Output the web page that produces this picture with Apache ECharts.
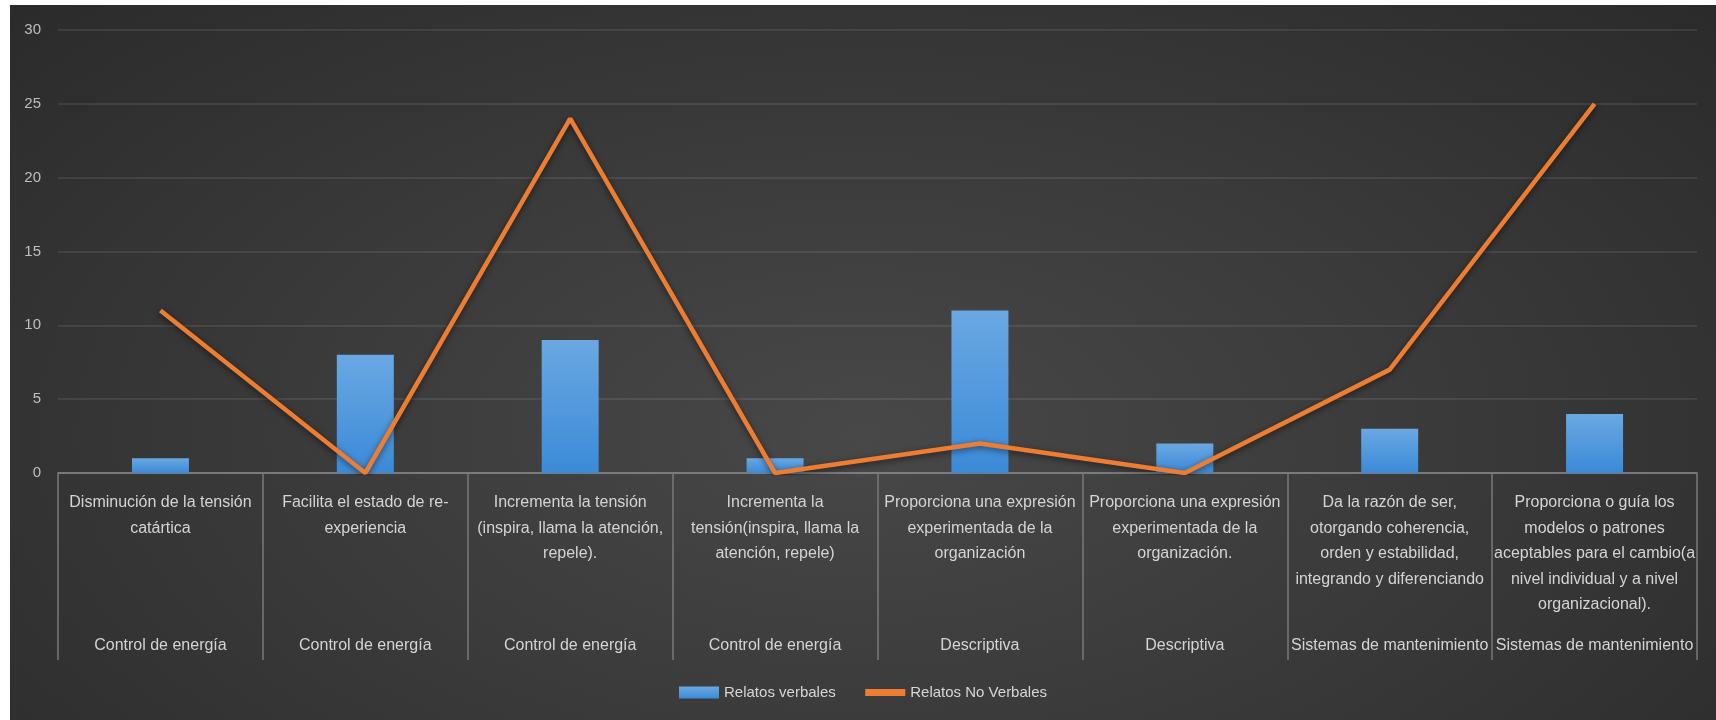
<!DOCTYPE html>
<html>
<head>
<meta charset="utf-8">
<script src="https://cdn.jsdelivr.net/npm/echarts@6/dist/echarts.min.js"></script>
<style>
  html, body { margin: 0; padding: 0; background: #ffffff; }
  #chart {
    position: absolute; left: 10px; top: 5px; width: 1706px; height: 715px;
    background: radial-gradient(ellipse 70% 90% at 50% 60%, #484848 0%, #3b3b3b 45%, #2a2a2a 100%);
  }
</style>
</head>
<body>
<div id="chart"></div>
<script>
const categories = [
  "Disminución de la tensión\ncatártica",
  "Facilita el estado de re-\nexperiencia",
  "Incrementa la tensión\n(inspira, llama la atención,\nrepele).",
  "Incrementa la\ntensión(inspira, llama la\natención, repele)",
  "Proporciona una expresión\nexperimentada de la\norganización",
  "Proporciona una expresión\nexperimentada de la\norganización.",
  "Da la razón de ser,\notorgando coherencia,\norden y estabilidad,\nintegrando y diferenciando",
  "Proporciona o guía los\nmodelos o patrones\naceptables para el cambio(a\nnivel individual y a nivel\norganizacional)."
];
const groups = [
  "Control de energía", "Control de energía", "Control de energía", "Control de energía",
  "Descriptiva", "Descriptiva", "Sistemas de mantenimiento", "Sistemas de mantenimiento"
];
const relatosVerbales = [1, 8, 9, 1, 11, 2, 3, 4];
const relatosNoVerbales = [11, 0, 24, 0, 2, 0, 7, 25];
const yTicks = { min: 0, max: 30, interval: 5 };

const chart = echarts.init(document.getElementById('chart'), null, { renderer: 'canvas' });
const font = "'Liberation Sans', Arial, sans-serif";
chart.setOption({
  backgroundColor: 'transparent',
  animation: false,
  textStyle: { fontFamily: font },
  grid: { left: 48, right: 19, top: 25, bottom: 247, containLabel: false },
  legend: {
    bottom: 15,
    left: 'center',
    itemGap: 26,
    itemWidth: 40,
    itemHeight: 12,
    textStyle: { color: '#d6d6d6', fontSize: 15, fontFamily: font },
    data: [
      { name: 'Relatos verbales', icon: 'rect' },
      { name: 'Relatos No Verbales', itemStyle: { opacity: 0 }, lineStyle: { width: 7, color: '#ed7d31' } }
    ]
  },
  xAxis: [
    {
      type: 'category',
      data: categories,
      position: 'bottom',
      axisLine: { show: true, lineStyle: { color: '#8a8a8a', width: 1.5 } },
      axisTick: { show: true, length: 187, interval: 0, lineStyle: { color: '#7a7a7a', width: 1.5 } },
      axisLabel: {
        interval: 0, margin: 17, color: '#d4d4d4', fontSize: 16, lineHeight: 25.5,
        fontFamily: font
      },
      splitLine: { show: false }
    },
    {
      type: 'category',
      data: groups,
      position: 'bottom',
      gridIndex: 0,
      axisLine: { show: false },
      axisTick: { show: false },
      axisLabel: {
        interval: 0, margin: 160, color: '#d4d4d4', fontSize: 16, lineHeight: 25.5,
        fontFamily: font
      },
      splitLine: { show: false }
    }
  ],
  yAxis: {
    type: 'value',
    min: yTicks.min, max: yTicks.max, interval: yTicks.interval,
    axisLine: { show: false },
    axisTick: { show: false },
    axisLabel: { color: '#bfbfbf', fontSize: 15, margin: 17, fontFamily: font },
    splitLine: { lineStyle: { color: 'rgba(255,255,255,0.11)', width: 1.5 } }
  },
  series: [
    {
      name: 'Relatos verbales',
      type: 'bar',
      xAxisIndex: 0,
      data: relatosVerbales,
      barWidth: 57,
      itemStyle: {
        color: new echarts.graphic.LinearGradient(0, 0, 0, 1, [
          { offset: 0, color: '#6aa8e2' },
          { offset: 1, color: '#3b8ad8' }
        ])
      }
    },
    {
      name: 'Relatos No Verbales',
      type: 'line',
      xAxisIndex: 0,
      data: relatosNoVerbales,
      symbol: 'none',
      lineStyle: {
        color: '#ed7d31', width: 4.5,
        shadowColor: 'rgba(0,0,0,0.55)', shadowBlur: 6, shadowOffsetY: 2
      },
      itemStyle: { color: '#ed7d31' },
      z: 3
    }
  ]
});
</script>
</body>
</html>
